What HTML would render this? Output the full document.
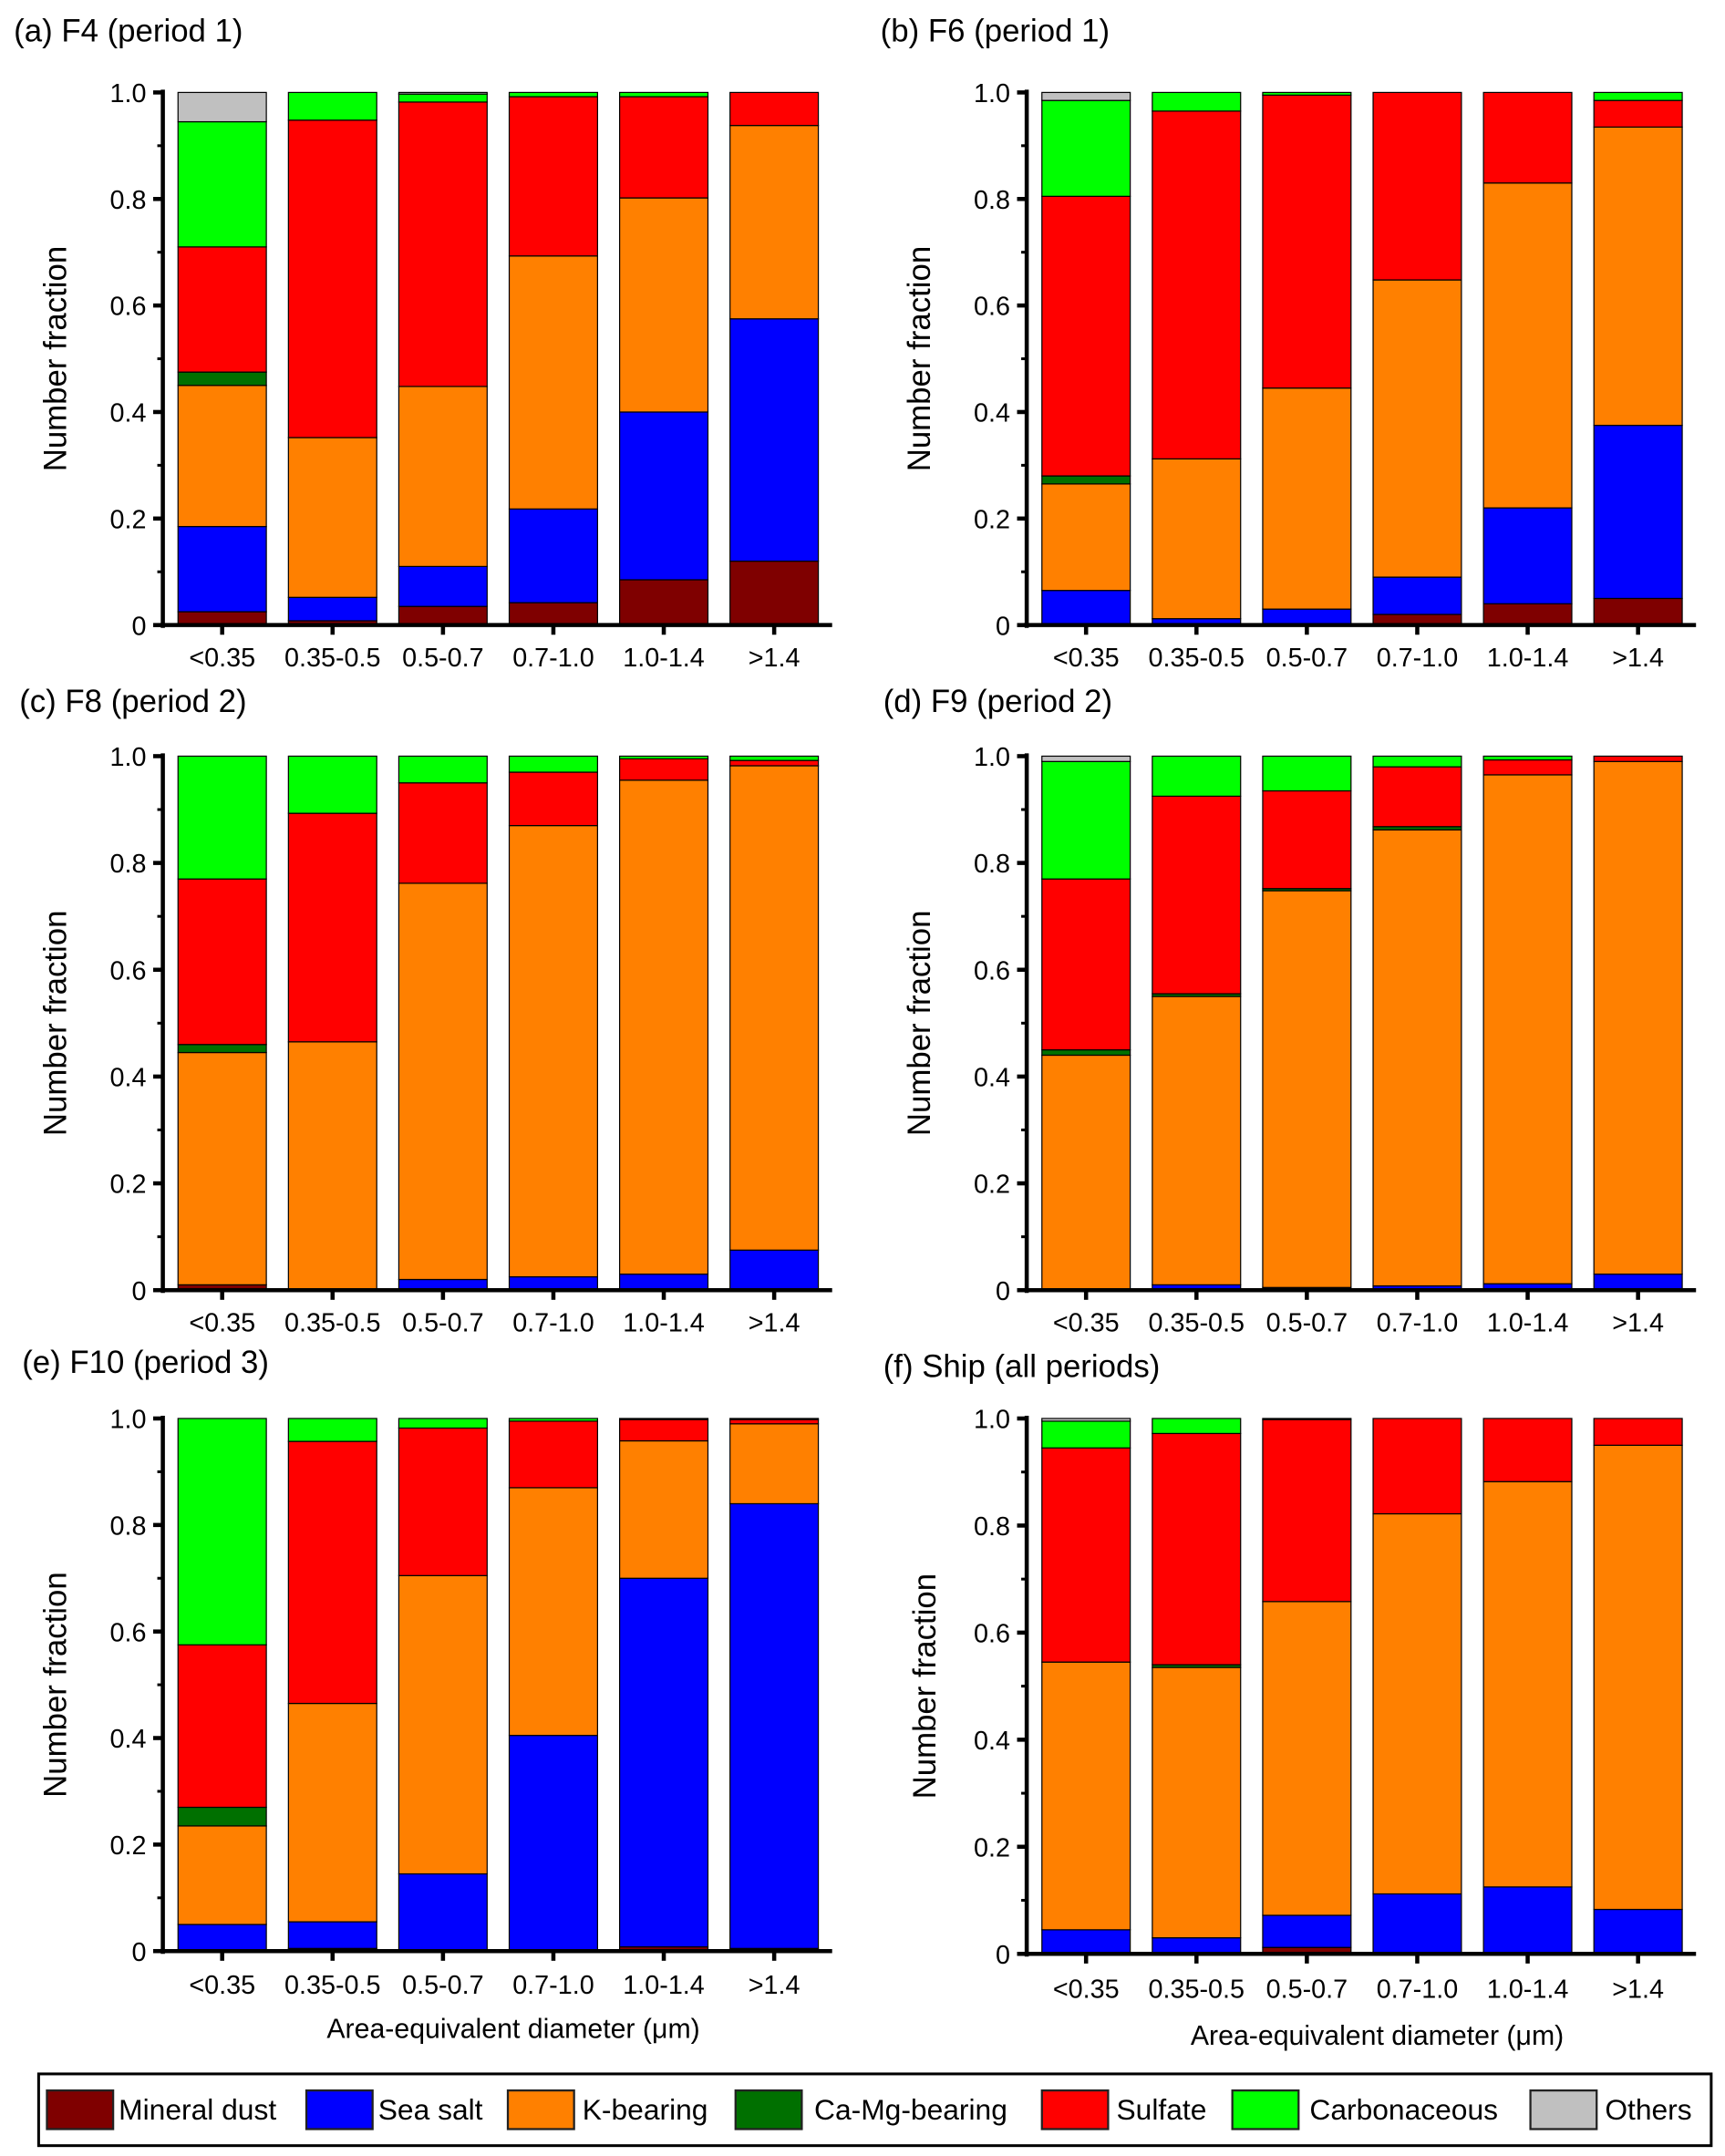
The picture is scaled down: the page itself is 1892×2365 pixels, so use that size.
<!DOCTYPE html>
<html><head><meta charset="utf-8"><style>
html,body{margin:0;padding:0;background:#fff}
svg{display:block}
text{font-family:"Liberation Sans",sans-serif;fill:#000}
</style></head><body>
<svg id="fig" width="1892" height="2365" viewBox="0 0 1250 1562.5" xmlns="http://www.w3.org/2000/svg"></svg>
<script>
const categories = ["<0.35","0.35-0.5","0.5-0.7","0.7-1.0","1.0-1.4",">1.4"];
const classes = ["Mineral dust","Sea salt","K-bearing","Ca-Mg-bearing","Sulfate","Carbonaceous","Others"];
const colors = ["#7f0000","#0000ff","#ff8000","#007000","#ff0000","#00ff00","#c0c0c0"];
const yTicks = [0,0.2,0.4,0.6,0.8,1.0];
const yTickLabels = ["0","0.2","0.4","0.6","0.8","1.0"];
const panelTitles = ["(a) F4 (period 1)","(b) F6 (period 1)","(c) F8 (period 2)","(d) F9 (period 2)","(e) F10 (period 3)","(f) Ship (all periods)"];
// cumulative tops per category: [mineral, +sea salt, +K, +CaMg, +sulfate, +carbon, +others]
const cumA = [[0.025,0.185,0.45,0.475,0.71,0.945,1],[0.008,0.052,0.352,0.352,0.948,1,1],[0.035,0.11,0.448,0.448,0.982,0.997,1],[0.042,0.218,0.693,0.693,0.992,1,1],[0.085,0.4,0.802,0.802,0.992,1,1],[0.12,0.575,0.938,0.938,1,1,1]];
const cumB = [[0,0.065,0.265,0.28,0.805,0.985,1],[0,0.012,0.312,0.312,0.965,1,1],[0,0.03,0.445,0.445,0.995,1,1],[0.02,0.09,0.648,0.648,1,1,1],[0.04,0.22,0.83,0.83,1,1,1],[0.05,0.375,0.935,0.935,0.985,1,1]];
const cumC = [[0.01,0.01,0.445,0.46,0.77,1,1],[0,0,0.465,0.465,0.893,1,1],[0,0.02,0.762,0.762,0.95,1,1],[0,0.025,0.87,0.87,0.97,1,1],[0,0.03,0.955,0.955,0.995,1,1],[0,0.075,0.982,0.982,0.992,1,1]];
const cumD = [[0,0,0.44,0.45,0.77,0.99,1],[0,0.01,0.55,0.555,0.925,1,1],[0,0.005,0.748,0.752,0.935,1,1],[0,0.008,0.862,0.868,0.98,1,1],[0,0.012,0.965,0.965,0.993,1,1],[0,0.03,0.99,0.99,1,1,1]];
const cumE = [[0,0.05,0.235,0.27,0.575,1,1],[0.005,0.055,0.465,0.465,0.957,1,1],[0,0.145,0.705,0.705,0.982,1,1],[0,0.405,0.87,0.87,0.995,1,1],[0.008,0.7,0.958,0.958,0.998,1,1],[0.005,0.84,0.99,0.99,0.998,1,1]];
const cumF = [[0,0.045,0.545,0.545,0.945,0.995,1],[0,0.03,0.535,0.54,0.972,1,1],[0.012,0.072,0.658,0.658,0.998,1,1],[0,0.112,0.822,0.822,1,1,1],[0,0.125,0.882,0.882,1,1,1],[0,0.083,0.95,0.95,1,1,1]];
const panelData = [cumA,cumB,cumC,cumD,cumE,cumF];

const NS="http://www.w3.org/2000/svg";
const svg=document.getElementById('fig');
function mk(tag,attrs,parent){const e=document.createElementNS(NS,tag);for(const k in attrs)e.setAttribute(k,attrs[k]);(parent||svg).appendChild(e);return e;}

const layout=[
 {ax:118,top:67,bot:453,tx:10,ty:30,lx:40,xl:475},
 {ax:744,top:67,bot:453,tx:638,ty:30,lx:666,xl:475},
 {ax:118,top:548,bot:935,tx:14,ty:516,lx:40,xl:957},
 {ax:744,top:548,bot:935,tx:640,ty:516,lx:666,xl:957},
 {ax:118,top:1028,bot:1414,tx:16,ty:995,lx:40,xl:1437},
 {ax:744,top:1028,bot:1416,tx:640,ty:998,lx:670,xl:1440}
];
layout.forEach((L,p)=>{
  const g=mk('g',{});
  
  
  const ys=v=>L.bot-v*(L.bot-L.top);
  const xs=i=>L.ax+11+i*80;
  const t=mk('text',{x:L.tx,y:L.ty,'font-size':23},g);t.textContent=panelTitles[p];
  
  
  panelData[p].forEach((cum,i)=>{
    let prev=0;
    cum.forEach((top,k)=>{
      const h=top-prev;
      if(h>0.0005){
        const r=mk('rect',{x:xs(i),y:ys(top),width:64,height:ys(prev)-ys(top),fill:colors[k],stroke:'#000','stroke-width':0.8},g);
        
        
      }
      prev=Math.max(prev,top);
    });
  });
  // y axis
  const ya=mk('line',{x1:L.ax,y1:L.top-2,x2:L.ax,y2:L.bot+2,stroke:'#000','stroke-width':3},g);
  
  
  yTicks.forEach((v,j)=>{
    mk('line',{x1:L.ax-7,y1:ys(v),x2:L.ax,y2:ys(v),stroke:'#000','stroke-width':3},g);
    if(j<yTicks.length-1) mk('line',{x1:L.ax-4,y1:ys(v+0.1),x2:L.ax,y2:ys(v+0.1),stroke:'#000','stroke-width':2},g);
    const tl=mk('text',{x:L.ax-12,y:ys(v)+7,'font-size':19,'text-anchor':'end'},g);tl.textContent=yTickLabels[j];
    
    
  });
  const xa=mk('line',{x1:L.ax-2,y1:L.bot,x2:L.ax+485,y2:L.bot,stroke:'#000','stroke-width':3},g);
  
  
  categories.forEach((c,i)=>{
    mk('line',{x1:xs(i)+32,y1:L.bot,x2:xs(i)+32,y2:L.bot+7,stroke:'#000','stroke-width':3},g);
    const tl=mk('text',{x:xs(i)+32,y:L.xl+8,'font-size':19,'text-anchor':'middle'},g);tl.textContent=c;
    
    
  });
  const yl=mk('text',{x:L.lx,y:(L.top+L.bot)/2,'font-size':23,'text-anchor':'middle',transform:`rotate(-90 ${L.lx} ${(L.top+L.bot)/2})`,dy:8},g);
  yl.textContent='Number fraction';
  
  
});
[[372,1477],[998,1482]].forEach(([x,y])=>{
  const t=mk('text',{x:x,y:y,'font-size':20,'text-anchor':'middle'});t.textContent='Area-equivalent diameter (μm)';
  
  
});
// legend
const lg=mk('g',{});


mk('rect',{x:28,y:1503,width:1212,height:52,fill:'#fff',stroke:'#000','stroke-width':2},lg);
const swX=[34,222,368,533,755,893,1109];
const labX=[86,274,422,590,809,949,1163];
classes.forEach((c,k)=>{
  const s=mk('rect',{x:swX[k],y:1515,width:48,height:28,fill:colors[k],stroke:'#222','stroke-width':1.5},lg);
  
  
  const t=mk('text',{x:labX[k],y:1536,'font-size':21},lg);t.textContent=c;
  
  
});
</script>
</body></html>
